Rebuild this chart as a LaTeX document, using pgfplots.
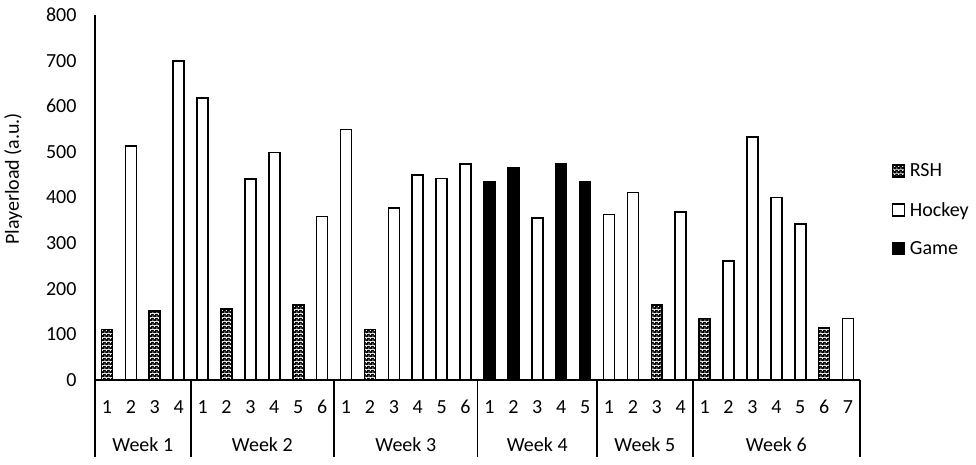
\documentclass[border=0pt]{standalone}
\usepackage{pgfplots}
\pgfplotsset{compat=1.18}
\usepackage{fontspec}
\setmainfont{Carlito}
\usetikzlibrary{patterns}
\newcommand{\myfont}{\fontsize{20bp}{24bp}\selectfont}
\pgfdeclarepatterninherentlycolored{rshdots}{\pgfpointorigin}{\pgfpoint{4bp}{4bp}}{\pgfpoint{4bp}{4bp}}{%
  \pgfsetfillcolor{black}%
  \pgfpathrectangle{\pgfpointorigin}{\pgfpoint{4bp}{4bp}}\pgfusepath{fill}%
  \pgfsetfillcolor{white}%
  \pgfpathrectangle{\pgfpoint{0.4bp}{0.4bp}}{\pgfpoint{1.3bp}{1.3bp}}\pgfusepath{fill}%
  \pgfpathrectangle{\pgfpoint{2.4bp}{2.4bp}}{\pgfpoint{1.3bp}{1.3bp}}\pgfusepath{fill}%
}
\begin{document}
\begin{tikzpicture}[font=\myfont]
\useasboundingbox (-95bp,-85bp) rectangle (881bp,380bp);
\begin{axis}[
  at={(0,0)}, anchor=south west,
  scale only axis, width=765bp, height=365bp,
  font=\myfont,
  ybar, bar width=0.46,
  xmin=-0.5, xmax=31.5, ymin=0, ymax=800,
  ytick={0,100,...,800},
  xtick={0,...,31},
  xticklabels={1,2,3,4,1,2,3,4,5,6,1,2,3,4,5,6,1,2,3,4,5,1,2,3,4,1,2,3,4,5,6,7},
  /pgf/number format/assume math mode=true,
  axis x line*=bottom, axis y line*=left,
  axis line style={-, line width=1.8bp},
  major tick length=0,
  tick label style={font=\myfont},
  xticklabel style={anchor=center, yshift=-27bp},
  yticklabel style={xshift=-15bp},
  ylabel={Playerload (a.u.)},
  ylabel style={font=\myfont, at={(axis description cs:-0.107,0.551)}, anchor=center},
  clip=false,
  legend style={font=\myfont, draw=none, fill=none, at={(1.037,0.466)}, anchor=west, row sep=20bp},
  legend cell align=left,
  legend image code/.code={\draw[#1, line width=1.2bp] (0bp,-6bp) rectangle (12bp,6bp); \path (15bp,0bp);},
]
\addplot[bar shift=0pt, draw=black, line width=1.6bp, pattern=rshdots] coordinates {
  (0,111) (2,151) (5,156) (8,164) (11,111) (23,165) (25,135) (30,114)
};
\addlegendentry{RSH}
\addplot[bar shift=0pt, draw=black, line width=1.6bp, fill=white] coordinates {
  (1,513) (3,699) (4,618) (6,440) (7,499) (9,358)
  (10,549) (12,377) (13,449) (14,442) (15,473)
  (18,355) (21,363) (22,411) (24,368)
  (26,261) (27,533) (28,400) (29,342) (31,135)
};
\addlegendentry{Hockey}
\addplot[bar shift=0pt, draw=black, line width=1.6bp, fill=black] coordinates {
  (16,434) (17,465) (19,473) (20,435)
};
\addlegendentry{Game}
\pgfplotsinvokeforeach{-0.5,3.5,9.5,15.5,20.5,24.5,31.5}{
  \draw[line width=1.8bp] (axis cs:#1,0) -- ++(0pt,-77bp);
}
\node[font=\myfont] at (axis cs:1.5,0) [yshift=-65bp] {Week 1};
\node[font=\myfont] at (axis cs:6.5,0) [yshift=-65bp] {Week 2};
\node[font=\myfont] at (axis cs:12.5,0) [yshift=-65bp] {Week 3};
\node[font=\myfont] at (axis cs:18,0) [yshift=-65bp] {Week 4};
\node[font=\myfont] at (axis cs:22.5,0) [yshift=-65bp] {Week 5};
\node[font=\myfont] at (axis cs:28,0) [yshift=-65bp] {Week 6};
\end{axis}
\end{tikzpicture}
\end{document}
